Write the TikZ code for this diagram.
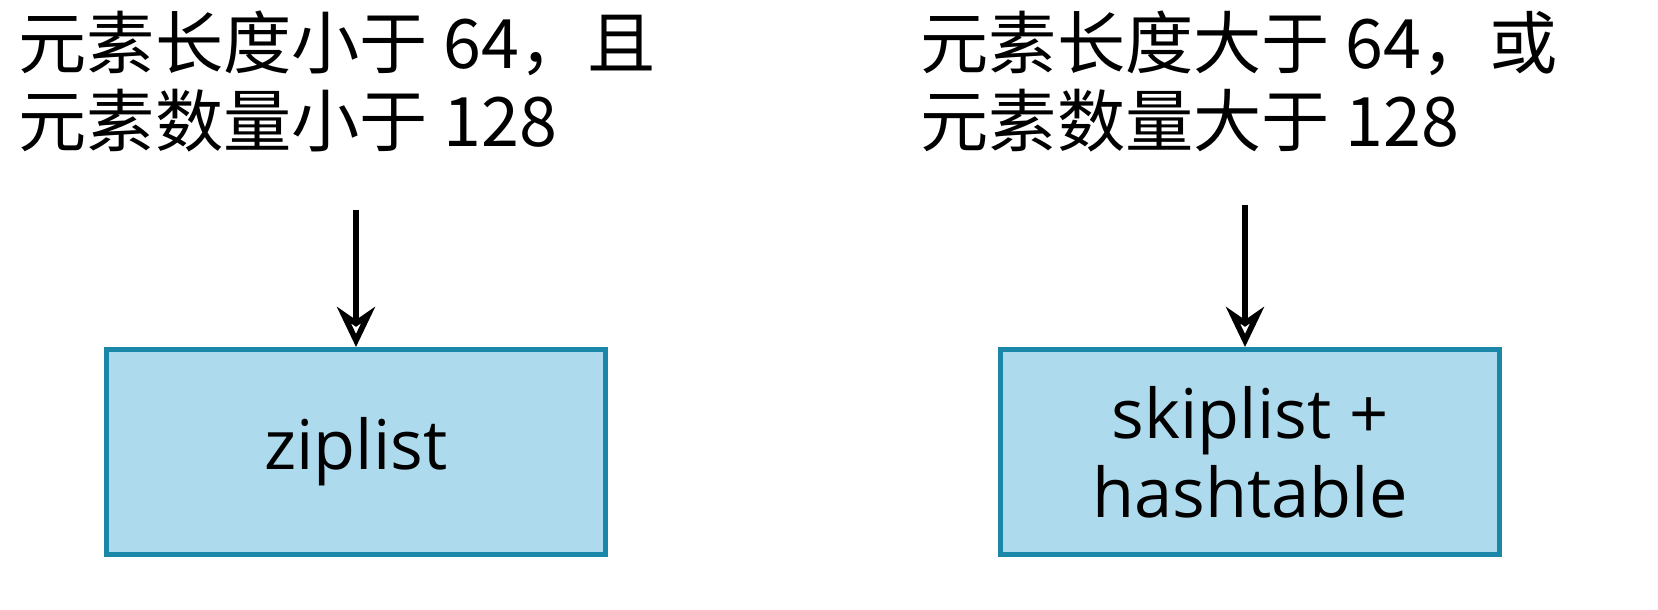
\documentclass[tikz,border=0pt]{standalone}
\usepackage{fontspec}
\setmainfont{Open Sans}
\newfontfamily\cjk{Noto Sans CJK SC}
\usetikzlibrary{positioning,shapes,arrows.meta}

\tikzset{
  cond/.style={anchor=north west, align=left, inner sep=0pt, font=\cjk\fontsize{19.4}{22.3}\selectfont},
  store/.style={draw=boxline, fill=boxfill, line width=1.4pt, minimum width=4.98cm, minimum height=2.05cm,
    align=center, font=\fontsize{19.5}{22.5}\selectfont},
  flow/.style={line width=1.6pt, -{Stealth[open, length=4mm, width=3.8mm]}}
}
\definecolor{boxline}{HTML}{1A86A8}
\definecolor{boxfill}{HTML}{ADDAEC}

\begin{document}
\begin{tikzpicture}[x=0.01cm, y=-0.01cm]
  \useasboundingbox (0,0) rectangle (1658,610);
  \node[cond] (small) at (18,10) {元素长度小于 64，且\\元素数量小于 128};
  \node[cond] (large) at (920,10) {元素长度大于 64，或\\元素数量大于 128};
  \node[store] (ziplist) at (356,452) {ziplist};
  \node[store] (skiplist) at (1250,452) {skiplist +\\hashtable};
  \coordinate (ztop) at (356,210); % arrow start, left
  \coordinate (stop) at (1245,205); % arrow start, right
  \draw [flow] (ztop) -- (ziplist);
  \draw [flow] (stop) -- (skiplist.north -| stop);
\end{tikzpicture}
\end{document}
